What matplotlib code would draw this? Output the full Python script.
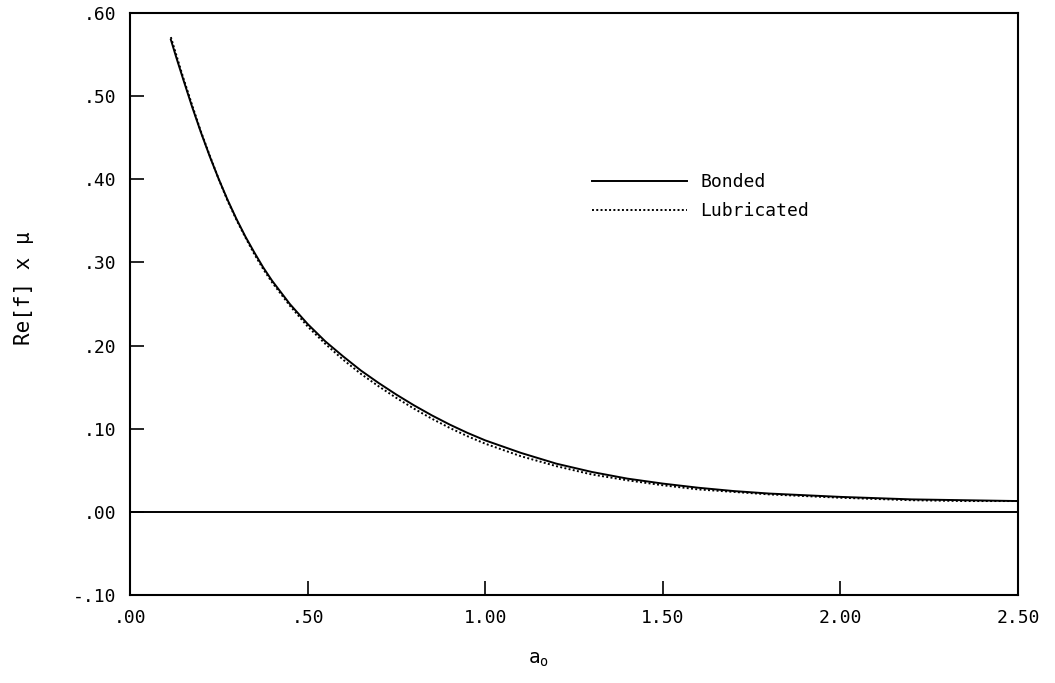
import matplotlib
matplotlib.use("Agg")
import matplotlib.pyplot as plt

# ---- data ----
a0 = [0.115, 0.13, 0.15, 0.175, 0.20, 0.225, 0.25, 0.275, 0.30, 0.325, 0.35,
      0.375, 0.40, 0.45, 0.50, 0.55, 0.60, 0.65, 0.70, 0.75, 0.80, 0.85, 0.90,
      0.95, 1.00, 1.10, 1.20, 1.30, 1.40, 1.50, 1.60, 1.70, 1.80, 1.90, 2.00,
      2.20, 2.35, 2.50]
bonded = [0.568, 0.547, 0.520, 0.487, 0.456, 0.427, 0.400, 0.375, 0.352, 0.331,
          0.312, 0.294, 0.278, 0.250, 0.226, 0.205, 0.187, 0.170, 0.155, 0.141,
          0.128, 0.116, 0.105, 0.095, 0.086, 0.071, 0.058, 0.048, 0.040, 0.034,
          0.029, 0.025, 0.022, 0.020, 0.018, 0.015, 0.014, 0.013]
lubricated = [0.571, 0.550, 0.522, 0.489, 0.457, 0.428, 0.400, 0.374, 0.351,
              0.330, 0.310, 0.292, 0.276, 0.248, 0.223, 0.202, 0.183, 0.166,
              0.151, 0.137, 0.124, 0.112, 0.101, 0.091, 0.082, 0.067, 0.055,
              0.045, 0.038, 0.032, 0.027, 0.024, 0.021, 0.019, 0.017, 0.014,
              0.013, 0.013]
xticks = [0.0, 0.5, 1.0, 1.5, 2.0, 2.5]
xticklabels = [".00", ".50", "1.00", "1.50", "2.00", "2.50"]
yticks = [-0.10, 0.0, 0.10, 0.20, 0.30, 0.40, 0.50, 0.60]
yticklabels = ["-.10", ".00", ".10", ".20", ".30", ".40", ".50", ".60"]

plt.rcParams['font.family'] = ['DejaVu Sans Mono', 'DejaVu Sans']

fig = plt.figure(figsize=(10.55, 6.83), dpi=100)
ax = fig.add_axes([130/1055, 1 - 595/683, (1018 - 130)/1055, (595 - 13)/683])

ax.plot(a0, bonded, color='black', lw=1.4, label='Bonded')
ax.plot(a0, lubricated, color='black', lw=1.4, linestyle=(0, (1, 1.2)),
        label='Lubricated')
ax.axhline(0.0, color='black', lw=1.4)

ax.set_xlim(0, 2.5)
ax.set_ylim(-0.10, 0.60)
ax.set_xticks(xticks)
ax.set_xticklabels(xticklabels, fontsize=13)
ax.set_yticks(yticks)
ax.set_yticklabels(yticklabels, fontsize=13)
ax.tick_params(direction='in', length=10, width=1.2, pad=10)
for s in ax.spines.values():
    s.set_linewidth(1.5)

ax.set_xlabel(r"a$_\mathregular{o}$", fontsize=14)
ax.xaxis.set_label_coords(0.46, -0.095)
ax.set_ylabel("Re[f] x \u03bc", fontsize=15)
ax.yaxis.set_label_coords(-0.108, 0.527)

ax.legend(loc='upper left', bbox_to_anchor=(0.52, 0.725), frameon=False,
          fontsize=13, handlelength=5.3, handletextpad=0.7, labelspacing=0.62,
          borderpad=0, borderaxespad=0)

fig.savefig("out.png", dpi=100)
